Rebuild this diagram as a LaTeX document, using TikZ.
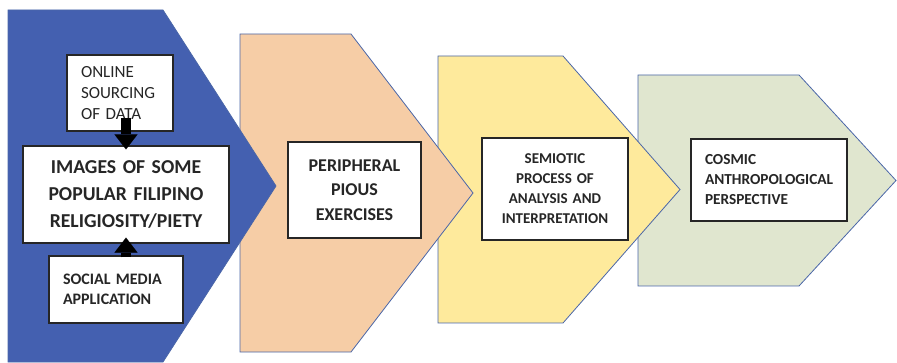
\documentclass[tikz,border=0pt]{standalone}
\usepackage{fontspec}
\setmainfont{Carlito}
\usetikzlibrary{arrows.meta}
\definecolor{chevline}{HTML}{4A66A8}
\definecolor{bluefill}{HTML}{4460B0}
\definecolor{orangefill}{HTML}{F6CDA6}
\definecolor{yellowfill}{HTML}{FEEA9C}
\definecolor{greenfill}{HTML}{E0E6CF}
\newcommand{\fsz}[2]{\fontsize{#1}{#2}\selectfont}
\begin{document}
\begin{tikzpicture}[x=1pt, y=-1pt, chev/.style={draw=chevline, line width=0.8pt, fill=#1}, rect/.style={rectangle, draw=black!85, line width=1.2pt, fill=white, inner xsep=4, inner ysep=0, align=center, text=black!85, font=\bfseries}, lrect/.style={rect, align=left, inner xsep=14}, blockarrow/.style={line width=10pt, -{Triangle[width=23pt, length=15pt, line width=0.1pt]}}]

\useasboundingbox (0,0) rectangle (897,363);
\filldraw[chev=greenfill] (638,75) -- (799,75) -- (896,180.5) -- (799,286) -- (638,286) -- cycle;
\filldraw[chev=yellowfill] (438,56) -- (563,56) -- (680,189.5) -- (563,323) -- (438,323) -- cycle;
\filldraw[chev=orangefill] (240,34) -- (351,34) -- (473,193) -- (351,352) -- (240,352) -- cycle;
\filldraw[chev=bluefill] (8,10) -- (163,10) -- (276,186) -- (163,362) -- (8,362) -- cycle;

\node [lrect, font=\mdseries, text width=78, minimum height=76, node font=\fsz{17}{21}] (online) at (120,93) {ONLINE\\SOURCING\\OF DATA};
\node [rect, text width=198, minimum height=97, node font=\fsz{19.7}{27}] (images) at (126,194.5) {IMAGES OF SOME\\POPULAR FILIPINO\\RELIGIOSITY/PIETY};
\node [lrect, text width=106, minimum height=67, node font=\fsz{16}{19.5}] (social) at (116,289.5) {SOCIAL MEDIA\\APPLICATION};
\node [rect, text width=125, minimum height=96, node font=\fsz{18}{24.5}] (pious) at (354.5,190) {PERIPHERAL\\PIOUS\\EXERCISES};
\node [rect, text width=138, minimum height=102, node font=\fsz{15}{20}] (semiotic) at (555,189) {SEMIOTIC\\PROCESS OF\\ANALYSIS AND\\INTERPRETATION};
\node [lrect, text width=128, minimum height=82, node font=\fsz{15.3}{20}] (cosmic) at (769,180) {COSMIC\\ANTHROPOLOGICAL\\PERSPECTIVE};

\draw[blockarrow] ([yshift=14pt]images.north |- online.south) -- ([yshift=-4pt]images.north);
\draw[blockarrow] ([yshift=-2pt]images.south |- social.north) -- ([yshift=6pt]images.south);

\end{tikzpicture}
\end{document}
